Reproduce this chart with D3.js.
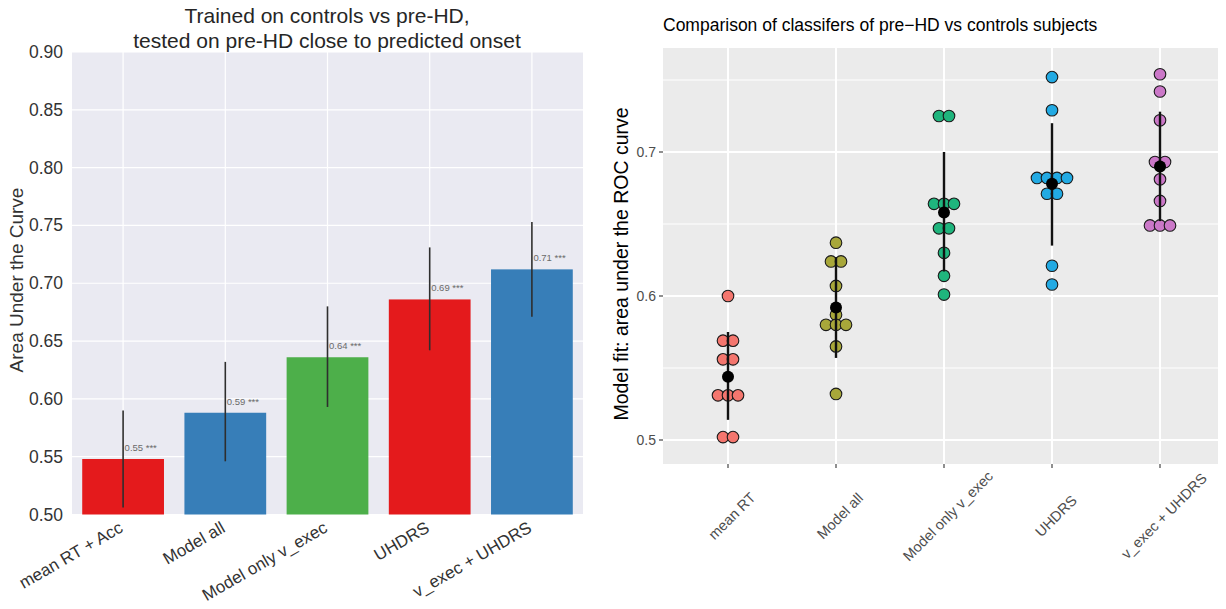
<!DOCTYPE html>
<html>
<head>
<meta charset="utf-8">
<script src="https://cdn.jsdelivr.net/npm/d3@7"></script>
<style>
  body { margin: 0; background: #fff; }
  svg { display: block; font-family: "Liberation Sans", Arial, sans-serif; }
</style>
</head>
<body>
<svg id="chart" width="1226" height="609"></svg>
<script>
// left panel: bar chart of AUC, tested on pre-HD close to onset
const barCategories = ["mean RT + Acc", "Model all", "Model only v_exec", "UHDRS", "v_exec + UHDRS"];
const barValues = [0.548, 0.588, 0.636, 0.686, 0.712];
const barErrLo = [0.506, 0.546, 0.593, 0.642, 0.671];
const barErrHi = [0.590, 0.632, 0.680, 0.731, 0.753];
const barLabels = ["0.55 ***", "0.59 ***", "0.64 ***", "0.69 ***", "0.71 ***"];
const barColors = ["#e41a1c", "#377eb8", "#4daf4a", "#e41a1c", "#377eb8"];
const barTicks = [0.50, 0.55, 0.60, 0.65, 0.70, 0.75, 0.80, 0.85, 0.90];

// right panel: dot plot of classifier AUCs (one dot per fold)
const dotCategories = ["mean RT", "Model all", "Model only v_exec", "UHDRS", "v_exec + UHDRS"];
const aucMeanRT = [0.600, 0.569, 0.569, 0.556, 0.556, 0.531, 0.531, 0.531, 0.502, 0.502];
const aucModelAll = [0.637, 0.624, 0.624, 0.607, 0.587, 0.580, 0.580, 0.580, 0.565, 0.532];
const aucModelOnly = [0.725, 0.725, 0.664, 0.664, 0.664, 0.647, 0.647, 0.630, 0.614, 0.601];
const aucUHDRS = [0.752, 0.729, 0.682, 0.682, 0.682, 0.682, 0.671, 0.671, 0.621, 0.608];
const aucCombined = [0.754, 0.742, 0.722, 0.693, 0.693, 0.681, 0.666, 0.649, 0.649, 0.649];
const meanAUC = [0.544, 0.592, 0.658, 0.678, 0.690];
const errLo = [0.514, 0.557, 0.617, 0.635, 0.652];
const errHi = [0.575, 0.627, 0.700, 0.720, 0.728];
const dotColors = ["#f4766e", "#a8a73a", "#1fb57d", "#22aae3", "#cb78c8"];
const dotTicks = [0.5, 0.6, 0.7];
const dotMinorTicks = [0.55, 0.65, 0.75];

const svg = d3.select("#chart");

function drawBars() {
  const x = d3.scaleBand()
    .domain(barCategories)
    .range([72, 583])
    .paddingInner(0.2)
    .paddingOuter(0.1);
  const y = d3.scaleLinear().domain([0.5, 0.9]).range([514.5, 52]);

  const g = svg.append("g");
  // seaborn darkgrid background
  g.append("rect")
    .attr("x", 72).attr("y", 52)
    .attr("width", 511).attr("height", 462.5)
    .attr("fill", "#eaeaf2");

  g.selectAll("line.hgrid")
    .data(barTicks)
    .enter()
    .append("line")
    .attr("x1", 72).attr("x2", 583)
    .attr("y1", d => y(d)).attr("y2", d => y(d))
    .attr("stroke", "#fff").attr("stroke-width", 1.2);

  g.selectAll("line.vgrid")
    .data(barCategories)
    .enter()
    .append("line")
    .attr("x1", d => x(d) + x.bandwidth() / 2)
    .attr("x2", d => x(d) + x.bandwidth() / 2)
    .attr("y1", 52).attr("y2", 514.5)
    .attr("stroke", "#fff").attr("stroke-width", 1.2);

  g.selectAll("rect.bar")
    .data(barCategories)
    .enter()
    .append("rect")
    .attr("x", d => x(d))
    .attr("y", (d, i) => y(barValues[i]))
    .attr("width", x.bandwidth())
    .attr("height", (d, i) => y(0.5) - y(barValues[i]))
    .attr("fill", (d, i) => barColors[i]);

  g.selectAll("line.err")
    .data(barCategories)
    .enter()
    .append("line")
    .attr("x1", d => x(d) + x.bandwidth() / 2)
    .attr("x2", d => x(d) + x.bandwidth() / 2)
    .attr("y1", (d, i) => y(barErrLo[i]))
    .attr("y2", (d, i) => y(barErrHi[i]))
    .attr("stroke", "#2e2e2e").attr("stroke-width", 1.6);

  g.selectAll("text.val")
    .data(barCategories)
    .enter()
    .append("text")
    .attr("x", d => x(d) + x.bandwidth() / 2 + 1.5)
    .attr("y", (d, i) => y(barValues[i]) - 8)
    .attr("font-size", 9.5)
    .attr("fill", "#6a6a6a")
    .text((d, i) => barLabels[i]);

  // y tick labels
  g.selectAll("text.ytick")
    .data(barTicks)
    .enter()
    .append("text")
    .attr("x", 63)
    .attr("y", d => y(d) + 6)
    .attr("text-anchor", "end")
    .attr("font-size", 17.5)
    .attr("fill", "#333")
    .text(d3.format(".2f"));

  // x labels, rotated like matplotlib rotation=30 ha=right
  g.selectAll("text.xtick")
    .data(barCategories)
    .enter()
    .append("text")
    .attr("text-anchor", "end")
    .attr("font-size", 17)
    .attr("fill", "#333")
    .attr("transform", d => "translate(" + (x(d) + x.bandwidth() / 2 + 1) + ",531) rotate(-30)")
    .text(d => d);

  g.append("text")
    .attr("transform", "translate(23,280) rotate(-90)")
    .attr("text-anchor", "middle")
    .attr("font-size", 19)
    .attr("fill", "#333")
    .text("Area Under the Curve");

  g.append("text")
    .attr("x", 327).attr("y", 22.5)
    .attr("text-anchor", "middle")
    .attr("font-size", 21)
    .attr("fill", "#262626")
    .text("Trained on controls vs pre-HD,");
  g.append("text")
    .attr("x", 327).attr("y", 47.5)
    .attr("text-anchor", "middle")
    .attr("font-size", 21)
    .attr("fill", "#262626")
    .text("tested on pre-HD close to predicted onset");
}

function drawDots() {
  const series = [aucMeanRT, aucModelAll, aucModelOnly, aucUHDRS, aucCombined];
  const x = d3.scalePoint().domain(dotCategories).range([728, 1160]);
  const y = d3.scaleLinear().domain([0.5, 0.7]).range([440, 152]);
  const top = 48, bottom = 464, left = 663, right = 1218;

  const g = svg.append("g");
  g.append("rect")
    .attr("x", left).attr("y", top)
    .attr("width", right - left).attr("height", bottom - top)
    .attr("fill", "#ebebeb");

  g.selectAll("line.minor")
    .data(dotMinorTicks)
    .enter()
    .append("line")
    .attr("x1", left).attr("x2", right)
    .attr("y1", d => y(d)).attr("y2", d => y(d))
    .attr("stroke", "#fff").attr("stroke-width", 1);

  g.selectAll("line.major")
    .data(dotTicks)
    .enter()
    .append("line")
    .attr("x1", left).attr("x2", right)
    .attr("y1", d => y(d)).attr("y2", d => y(d))
    .attr("stroke", "#fff").attr("stroke-width", 2);

  g.selectAll("line.vmajor")
    .data(dotCategories)
    .enter()
    .append("line")
    .attr("x1", d => x(d)).attr("x2", d => x(d))
    .attr("y1", top).attr("y2", bottom)
    .attr("stroke", "#fff").attr("stroke-width", 2);

  // stack equal values side by side, centred on the category (dotplot style)
  const dots = [];
  series.forEach(function(vals, i) {
    const groups = d3.group(vals, v => v.toFixed(3));
    groups.forEach(function(arr) {
      arr.forEach(function(v, k) {
        dots.push({ cat: dotCategories[i], i: i, v: v, off: (k - (arr.length - 1) / 2) * 10 });
      });
    });
  });

  g.selectAll("circle.dot")
    .data(dots)
    .enter()
    .append("circle")
    .attr("cx", d => x(d.cat) + d.off)
    .attr("cy", d => y(d.v))
    .attr("r", 5.8)
    .attr("fill", d => dotColors[d.i])
    .attr("stroke", "#1a1a1a")
    .attr("stroke-width", 1.1);

  g.selectAll("line.err")
    .data(dotCategories)
    .enter()
    .append("line")
    .attr("x1", d => x(d)).attr("x2", d => x(d))
    .attr("y1", (d, i) => y(errLo[i]))
    .attr("y2", (d, i) => y(errHi[i]))
    .attr("stroke", "#111").attr("stroke-width", 2.4);

  g.selectAll("circle.mean")
    .data(dotCategories)
    .enter()
    .append("circle")
    .attr("cx", d => x(d))
    .attr("cy", (d, i) => y(meanAUC[i]))
    .attr("r", 6)
    .attr("fill", "#000");

  // axis ticks
  g.selectAll("line.ytk")
    .data(dotTicks)
    .enter()
    .append("line")
    .attr("x1", left - 4).attr("x2", left)
    .attr("y1", d => y(d)).attr("y2", d => y(d))
    .attr("stroke", "#333").attr("stroke-width", 1.1);
  g.selectAll("text.ytk")
    .data(dotTicks)
    .enter()
    .append("text")
    .attr("x", left - 7)
    .attr("y", d => y(d) + 5)
    .attr("text-anchor", "end")
    .attr("font-size", 14)
    .attr("fill", "#4d4d4d")
    .text(d3.format(".1f"));

  g.selectAll("line.xtk")
    .data(dotCategories)
    .enter()
    .append("line")
    .attr("x1", d => x(d)).attr("x2", d => x(d))
    .attr("y1", bottom).attr("y2", bottom + 4)
    .attr("stroke", "#333").attr("stroke-width", 1.1);
  g.selectAll("text.xtk")
    .data(dotCategories)
    .enter()
    .append("text")
    .attr("text-anchor", "middle")
    .attr("dominant-baseline", "central")
    .attr("font-size", 14.5)
    .attr("fill", "#4d4d4d")
    .attr("transform", d => "translate(" + (x(d) + 4) + ",516) rotate(-45)")
    .text(d => d);

  g.append("text")
    .attr("transform", "translate(628,264) rotate(-90)")
    .attr("text-anchor", "middle")
    .attr("font-size", 19.5)
    .attr("fill", "#000")
    .text("Model fit: area under the ROC curve");

  g.append("text")
    .attr("x", left).attr("y", 31)
    .attr("font-size", 17.5)
    .attr("fill", "#000")
    .text("Comparison of classifers of pre\u2212HD vs controls subjects");
}

drawBars();
drawDots();
</script>
</body>
</html>
